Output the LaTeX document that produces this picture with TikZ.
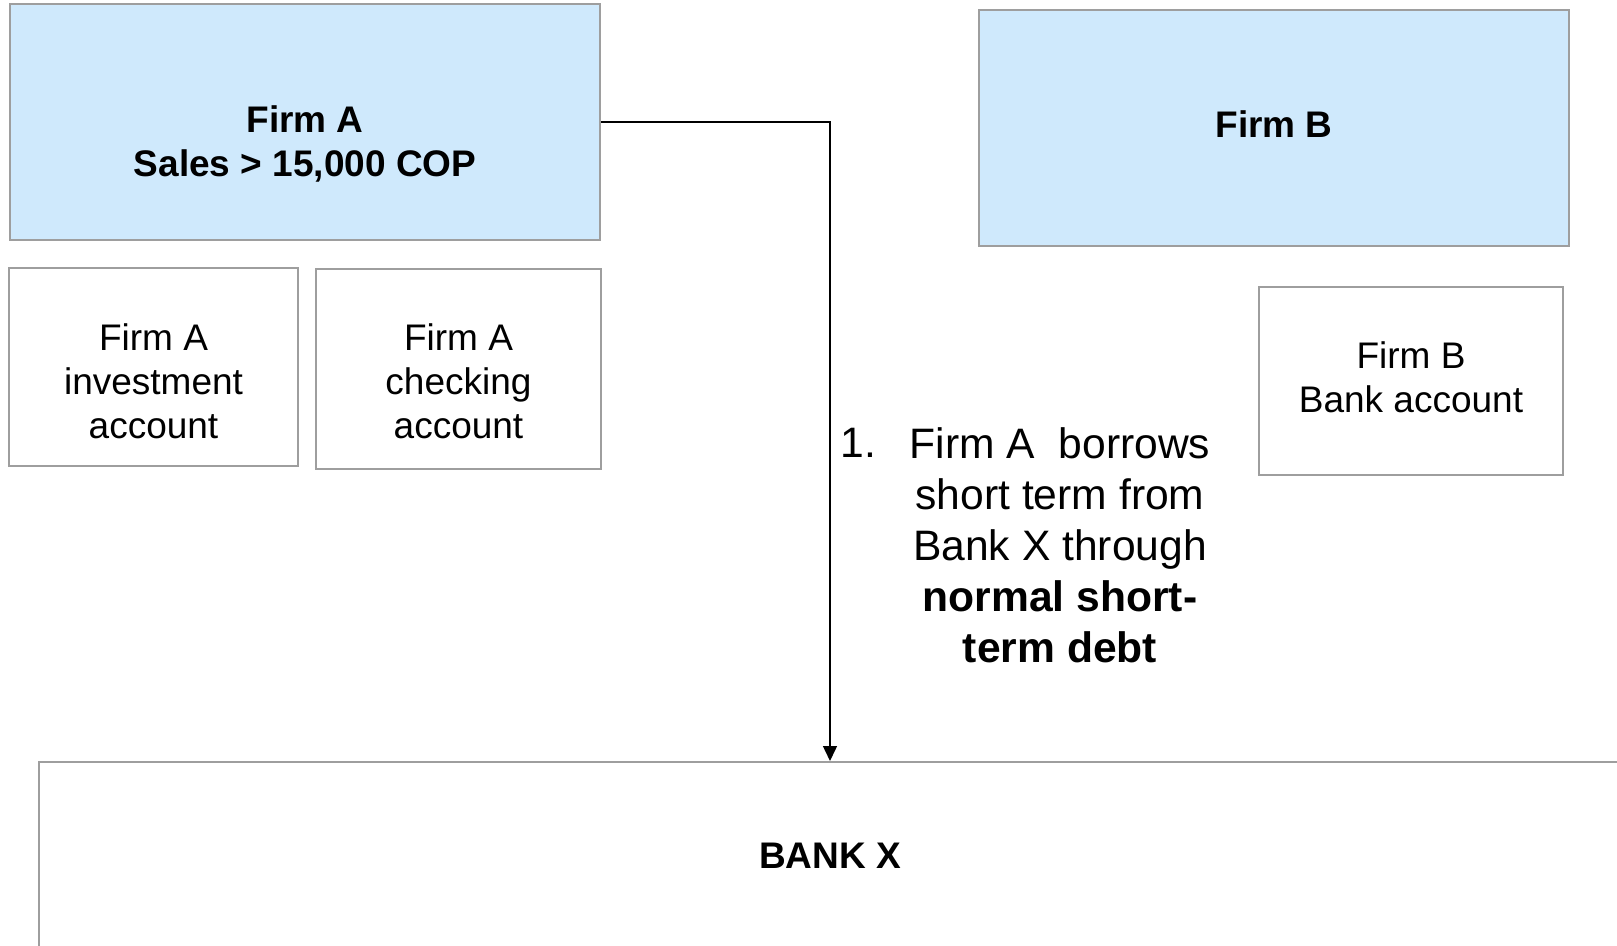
\documentclass[tikz,border=0pt]{standalone}
\usepackage{fontspec}
\setmainfont{Liberation Sans}
\usetikzlibrary{arrows.meta}
\definecolor{firmfill}{RGB}{207,233,252}
\definecolor{boxline}{RGB}{158,158,158}

\begin{document}
\begin{tikzpicture}[x=0.5pt,y=-0.5pt]
\tikzstyle{every node}+=[inner sep=0pt]
\tikzstyle{firmbox}=[draw=boxline, fill=firmfill, line width=1pt]
\tikzstyle{acctbox}=[draw=boxline, line width=1pt]
\tikzstyle{boxtext}=[align=center, font=\fontsize{18.5}{22}\selectfont]
\tikzstyle{notetext}=[align=center, font=\fontsize{21.3}{25.5}\selectfont]
\clip (0,0) rectangle (1617,946);
\fill [white] (0,0) rectangle (1617,946);
% firms
\node [firmbox, minimum width=295pt, minimum height=118pt] (firmA) at (305,122) {};
\node [boxtext] (firmAtext) at (305,144) {\textbf{Firm A}\\\textbf{Sales > 15,000 COP}};
\node [firmbox, minimum width=295pt, minimum height=118pt] (firmB) at (1274,128) {};
\node [boxtext] (firmBtext) at (1274,124) {\textbf{Firm B}};
% accounts
\node [acctbox, minimum width=144.5pt, minimum height=99pt] (invest) at (153.5,367) {};
\node [boxtext] (investtext) at (153.5,381) {Firm A\\investment\\account};
\node [acctbox, minimum width=142.5pt, minimum height=100pt] (check) at (458.5,369) {};
\node [boxtext] (checktext) at (458.5,381) {Firm A\\checking\\account};
\node [acctbox, minimum width=152pt, minimum height=94pt] (bacct) at (1411,381) {};
\node [boxtext] (bacctext) at (1411,377) {Firm B\\Bank account};
% bank
\node [acctbox, boxtext, minimum width=791pt, minimum height=94pt] (bank) at (830,856) {\textbf{BANK X}};
% loan
\draw [-{Triangle[length=7.5pt,width=7pt]}, line width=0.75pt] (firmA.east) -| (bank.north);
\node [notetext, anchor=base west] (step1) at (840,458) {1.};
\node [notetext] (note) at (1060,545) {Firm A\ \ borrows\\short term from\\Bank X through\\\textbf{normal short-}\\\textbf{term debt}};
\end{tikzpicture}
\end{document}
